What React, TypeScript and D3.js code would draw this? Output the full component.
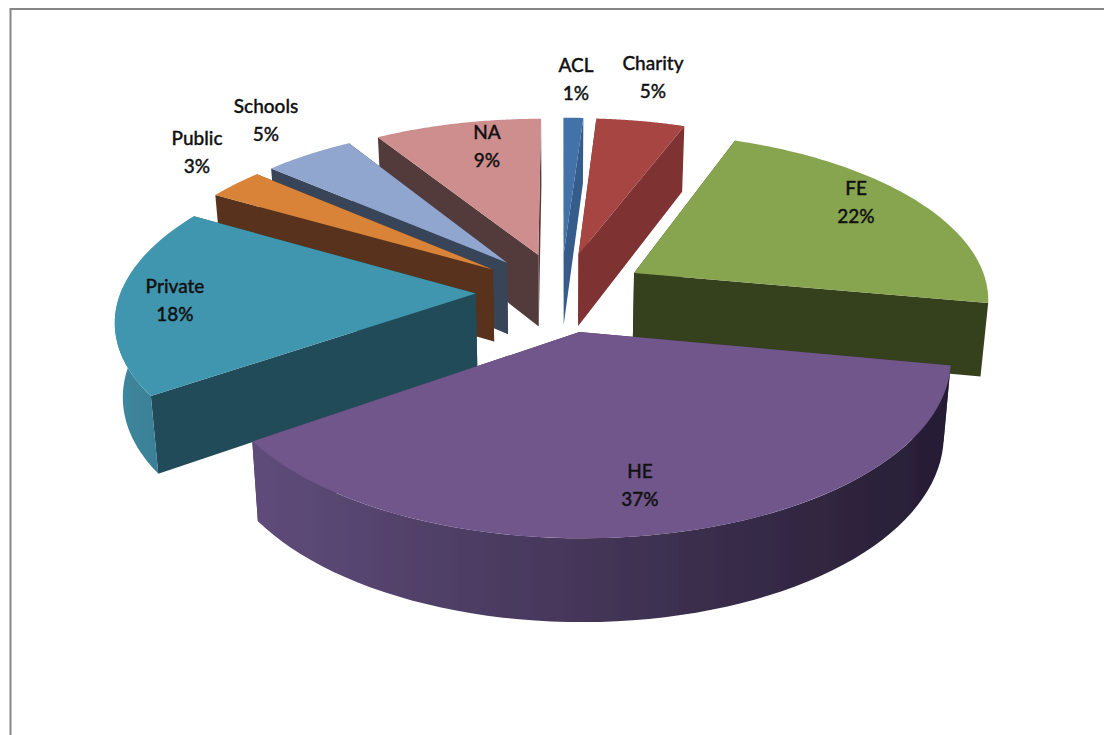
import React from "react";
import * as d3 from "d3";

const categories = ["ACL", "Charity", "FE", "HE", "Private", "Public", "Schools", "NA"];
const shares = [1.05, 4.7, 22.2, 37.4, 18.0, 3.0, 4.8, 8.85];
const shareLabels = ["1%", "5%", "22%", "37%", "18%", "3%", "5%", "9%"];

const topColors = ["#4372a8", "#a64442", "#87a550", "#6f568b", "#3f96ae", "#d88339", "#91a6cf", "#cd8e8d"];
const wallColors = ["#355c8a", "#7f3231", "#363f1d", "#4a3a5e", "#214c5a", "#58321a", "#394558", "#533a3b"];
const rimLight = ["#3d6a9c", "#94403e", "#76904a", "#5f4c7a", "#3e88a0", "#b87030", "#7f92b8", "#b07c7b"];
const rimDark = ["#3d6a9c", "#94403e", "#76904a", "#261d33", "#3a7f95", "#b87030", "#7f92b8", "#b07c7b"];
const labelAt: [number, number][] = [
  [576, 72], [653, 70], [856, 195], [640, 478], [175, 293], [197, 145], [266, 113], [487, 139],
];

const W = 1104, H = 735;
const CX = 561, CY = 292, RX = 355, RY = 165, K = 0.14, DEPTH = 73, EXPLODE = 0.24, SHRINK = 0.018;
const RIM_FROM = (102 * Math.PI) / 180, RIM_TO = (272 * Math.PI) / 180;

const project = (u: number, v: number, z: number): [number, number] => {
  const s = 1 / (1 - K * v);
  const f = 1 - SHRINK * z;
  return [CX + RX * u * s * f, CY + RY * v * s * f + DEPTH * z * s];
};

const arcs = d3.pie<number>().sort(null).value((d) => d)
  .startAngle(0).endAngle(2 * Math.PI)(shares);

const path = d3.line<[number, number]>();

const slices = arcs.map((a, i) => {
  const mid = (a.startAngle + a.endAngle) / 2;
  const ox = EXPLODE * Math.sin(mid), oy = -EXPLODE * Math.cos(mid);
  const rim = (z: number, from: number, to: number) => d3.range(0, 61).map((t) => {
    const th = from + ((to - from) * t) / 60;
    return project(ox + Math.sin(th), oy - Math.cos(th), z);
  });
  const apex0 = project(ox, oy, 0), apex1 = project(ox, oy, 1);
  const r0 = rim(0, a.startAngle, a.endAngle), r1 = rim(1, a.startAngle, a.endAngle);
  const from = Math.max(a.startAngle, RIM_FROM), to = Math.min(a.endAngle, RIM_TO);
  const outer = to > from
    ? path([...rim(0, from, to), ...rim(1, from, to).reverse()])! + "Z"
    : null;
  return {
    i, oy,
    top: path([apex0, ...r0])! + "Z",
    wallA: path([apex0, r0[0], r1[0], apex1])! + "Z",
    wallB: path([apex0, r0[60], r1[60], apex1])! + "Z",
    outer,
  };
});
const ordered = [...slices].sort((a, b) => a.oy - b.oy);

export default function App() {
  return (
    <svg width={W} height={H} style={{ position: "absolute", left: 0, top: 0, background: "#fff" }}>
      <defs>
        <filter id="soft" x="-5%" y="-5%" width="110%" height="110%">
          <feGaussianBlur stdDeviation="0.5" />
        </filter>
        {categories.map((c, i) => (
          <linearGradient key={c} id={`rim${i}`} x1="0" x2="1" y1="0" y2="0">
            <stop offset="0" stopColor={rimLight[i]} />
            <stop offset="1" stopColor={rimDark[i]} />
          </linearGradient>
        ))}
      </defs>
      <path d={`M10.5 ${H}V9H${W}`} fill="none" stroke="#868686" strokeWidth={2} />
      <g filter="url(#soft)">
        {ordered.map((s) => (
          <g key={s.i}>
            <path d={s.wallA} fill={wallColors[s.i]} />
            <path d={s.wallB} fill={wallColors[s.i]} />
            {s.outer && <path d={s.outer} fill={`url(#rim${s.i})`} />}
            <path d={s.top} fill={topColors[s.i]} />
          </g>
        ))}
      </g>
      <g fontFamily="Lato, 'Open Sans', sans-serif" fontSize={19} fontWeight={500} fill="#111" stroke="#111" strokeWidth={0.35} textAnchor="middle">
        {categories.map((c, i) => (
          <text key={c} x={labelAt[i][0]} y={labelAt[i][1]}>
            <tspan x={labelAt[i][0]}>{c}</tspan>
            <tspan x={labelAt[i][0]} dy={28}>{shareLabels[i]}</tspan>
          </text>
        ))}
      </g>
    </svg>
  );
}
